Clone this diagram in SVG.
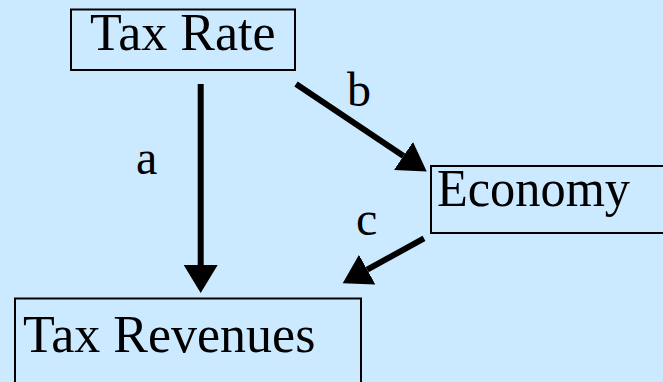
<svg xmlns="http://www.w3.org/2000/svg" width="663" height="382" viewBox="0 0 663 382">
<style>
.box{fill:none;stroke:#000;stroke-width:2}
.t{font-family:"Liberation Serif","Times New Roman",serif;font-size:52px;fill:#000}
.l{font-family:"Liberation Serif","Times New Roman",serif;font-size:48px;fill:#000}
.c{stroke:#000;stroke-width:6;fill:none;marker-end:url(#ah)}
</style>
<defs>
<marker id="ah" markerUnits="userSpaceOnUse" markerWidth="29" markerHeight="34" refX="0" refY="17" orient="auto" viewBox="0 0 29 34">
<path d="M0,0 L28,17 L0,34 Z" fill="#000"/>
</marker>
</defs>
<rect width="663" height="382" fill="#CCEAFF"/>
<g id="connectors">
<line class="c" x1="200.7" y1="84" x2="200.7" y2="265"/>
<line class="c" x1="296" y1="84" x2="403.5" y2="156"/>
<line class="c" x1="424" y1="238.3" x2="367.2" y2="269.7"/>
<text class="l" x="136" y="174">a</text>
<text class="l" x="347" y="106">b</text>
<text class="l" x="356" y="235">c</text>
</g>
<g id="tax-rate">
<rect class="box" x="71" y="9.5" width="224" height="60.5"/>
<text class="t" x="90" y="50">Tax Rate</text>
</g>
<g id="economy">
<rect class="box" x="431" y="166" width="240" height="67"/>
<text class="t" x="437" y="206" textLength="193" lengthAdjust="spacingAndGlyphs">Economy</text>
</g>
<g id="tax-revenues">
<rect class="box" x="15" y="298.5" width="346" height="100"/>
<text class="t" x="23" y="351.7">Tax Revenues</text>
</g>
</svg>
